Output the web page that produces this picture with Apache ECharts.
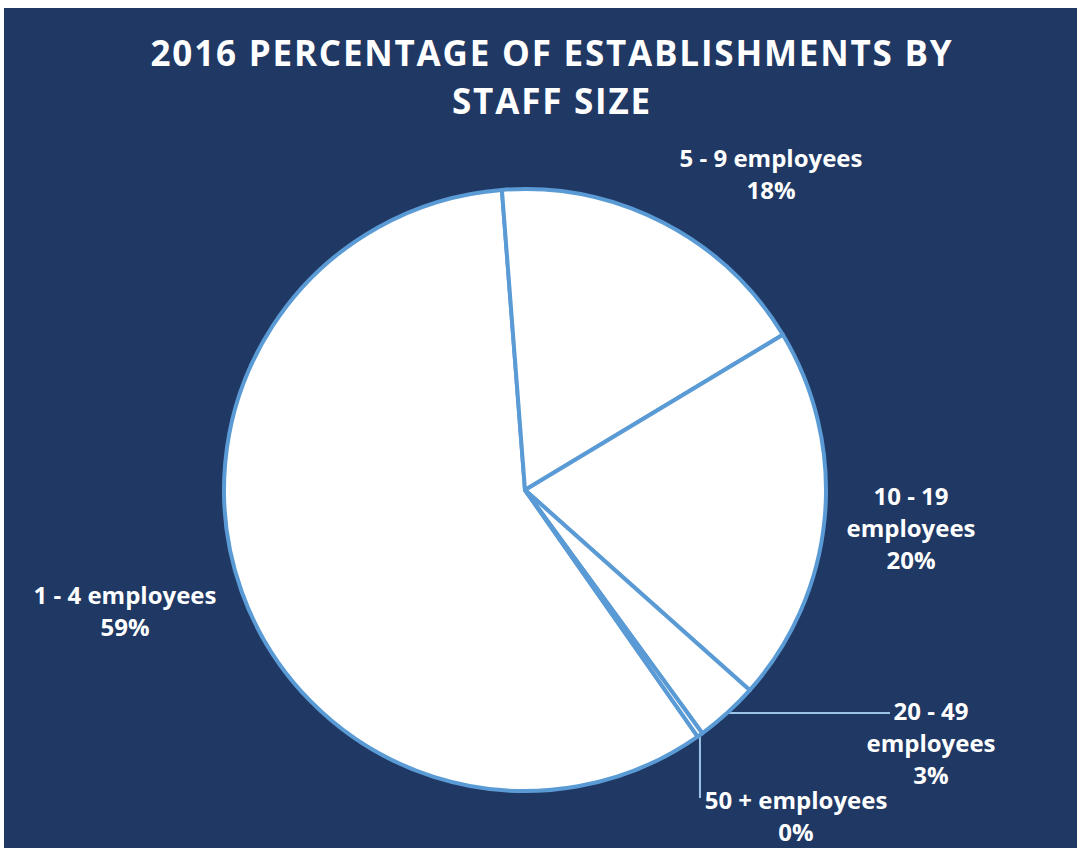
<!DOCTYPE html>
<html>
<head>
<meta charset="utf-8">
<script src="https://cdn.jsdelivr.net/npm/echarts@6/dist/echarts.min.js"></script>
<style>
  html, body { margin: 0; padding: 0; background: #ffffff; }
  #chart { position: absolute; left: 4px; top: 8px; width: 1073px; height: 840px; }
</style>
</head>
<body>
<div id="chart"></div>
<script>
// Establishments by staff size, 2016 (share of all establishments, %)
const categories = ['1 - 4 employees', '5 - 9 employees', '10 - 19 employees', '20 - 49 employees', '50 + employees'];
const shares = [58.5, 17.6, 20.2, 3.4, 0.3];
const titleText = '2016 PERCENTAGE OF ESTABLISHMENTS BY\nSTAFF SIZE';

// Styling
const NAVY = '#203864';
const EDGE = '#5b9bd5';
const LEADER = '#9dc3e6';
const TITLE_SPACING = '1.8px';

// Label placement (chart pixels), which names break onto two lines, and leader style
const labelPos = [[121, 602], [767, 165], [907, 519], [927, 734], [792, 807]];
const wrapName = [false, false, true, true, false];
const leader = [null, null, null, 'h', 'v'];

const chart = echarts.init(document.getElementById('chart'), null, { renderer: 'svg' });

chart.setOption({
  backgroundColor: NAVY,
  animation: false,
  title: {
    text: titleText,
    left: 543,
    top: 15,
    textAlign: 'center',
    textStyle: {
      color: '#ffffff',
      fontFamily: 'Open Sans',
      fontWeight: 'bold',
      fontSize: 35,
      lineHeight: 48
    }
  },
  series: [{
    type: 'pie',
    center: [521, 482],
    radius: 301,
    startAngle: 305,
    clockwise: true,
    percentPrecision: 0,
    avoidLabelOverlap: false,
    emphasis: { disabled: true },
    itemStyle: { color: '#ffffff', borderColor: EDGE, borderWidth: 4 },
    label: {
      show: true,
      position: 'outside',
      color: '#ffffff',
      fontFamily: 'Open Sans',
      fontWeight: 'bold',
      fontSize: 24,
      lineHeight: 32,
      align: 'center',
      formatter: function (p) {
        const name = wrapName[p.dataIndex] ? p.name.replace(' employees', '\nemployees') : p.name;
        return name + '\n' + p.percent + '%';
      }
    },
    labelLine: {
      show: false,
      length: 10,
      length2: 10,
      lineStyle: { color: LEADER, width: 2 }
    },
    labelLayout: function (p) {
      const i = p.dataIndex;
      const pos = labelPos[i];
      const out = { x: pos[0], y: pos[1], align: 'center', verticalAlign: 'middle' };
      const pts = p.labelLinePoints;
      if (leader[i] && pts && pts.length) {
        const a = pts[0];
        out.labelLinePoints = leader[i] === 'h'
          ? [a, [pos[0] - 41, a[1]]]
          : [a, [a[0], pos[1] - 17]];
      }
      return out;
    },
    data: categories.map(function (name, i) {
      return {
        name: name,
        value: shares[i],
        labelLine: { show: !!leader[i] }
      };
    })
  }]
});

// widen the title's tracking
function spaceTitle() {
  chart.getDom().querySelectorAll('text').forEach(function (t) {
    const s = t.textContent;
    if (s.indexOf('2016') === 0 || s === 'STAFF SIZE') {
      t.style.letterSpacing = TITLE_SPACING;
    }
  });
}
spaceTitle();
chart.on('finished', spaceTitle);
</script>
</body>
</html>
